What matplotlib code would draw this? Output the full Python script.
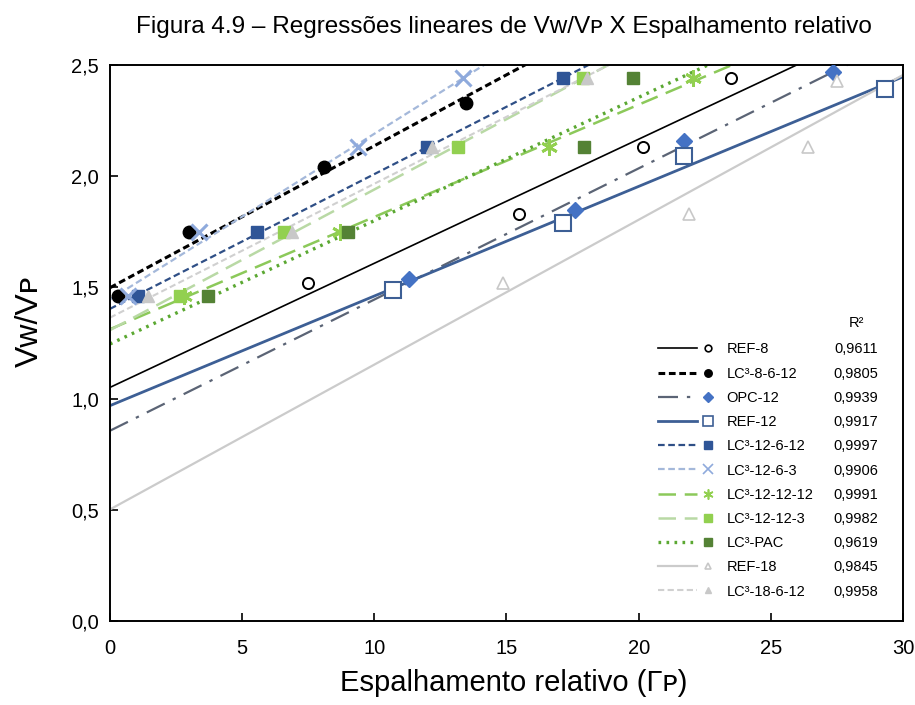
import numpy as np
import matplotlib
matplotlib.use("Agg")
import matplotlib.pyplot as plt
from matplotlib.lines import Line2D
from matplotlib.legend_handler import HandlerBase
from matplotlib.ticker import FuncFormatter

plt.rcParams['font.family'] = ['Liberation Sans', 'DejaVu Sans']

# dados (espalhamento relativo x Vw/Vp)
series = ['REF-8', 'LC³-8-6-12', 'OPC-12', 'REF-12', 'LC³-12-6-12', 'LC³-12-6-3',
          'LC³-12-12-12', 'LC³-12-12-3', 'LC³-PAC', 'REF-18', 'LC³-18-6-12']
r2 = ['0,9611', '0,9805', '0,9939', '0,9917', '0,9997', '0,9906',
      '0,9991', '0,9982', '0,9619', '0,9845', '0,9958']

gp_ref8 = [7.49, 15.47, 20.17, 23.5]
vw_ref8 = [1.52, 1.83, 2.13, 2.44]
gp_lc8 = [0.3, 3.0, 8.1, 13.45]
vw_lc8 = [1.46, 1.75, 2.04, 2.33]
gp_opc12 = [11.3, 17.6, 21.7, 27.35]
vw_opc12 = [1.54, 1.85, 2.16, 2.47]
gp_ref12 = [10.7, 17.15, 21.7, 29.3]
vw_ref12 = [1.49, 1.79, 2.09, 2.39]
gp_lc12_6_12 = [1.05, 5.55, 12.0, 17.15]
gp_lc12_6_3 = [0.7, 3.35, 9.4, 13.35]
gp_lc12_12_12 = [2.8, 8.7, 16.6, 22.05]
gp_lc12_12_3 = [2.65, 6.6, 13.15, 17.9]
gp_pac = [3.7, 9.0, 17.95, 19.8]
vw_lc = [1.46, 1.75, 2.13, 2.44]
gp_ref18 = [14.85, 21.9, 26.4, 27.5]
vw_ref18 = [1.52, 1.83, 2.13, 2.43]
gp_lc18 = [1.45, 6.9, 12.2, 18.05]

xs = [gp_ref8, gp_lc8, gp_opc12, gp_ref12, gp_lc12_6_12, gp_lc12_6_3,
      gp_lc12_12_12, gp_lc12_12_3, gp_pac, gp_ref18, gp_lc18]
ys = [vw_ref8, vw_lc8, vw_opc12, vw_ref12, vw_lc, vw_lc,
      vw_lc, vw_lc, vw_lc, vw_ref18, vw_lc]

# estilo de cada série: (linha, marcador)
line_styles = [
    dict(color='black', ls='-', lw=1.2),
    dict(color='black', ls=(0, (2.2, 1.2)), lw=2.2),
    dict(color='#5b6475', ls=(0, (9, 4, 1.5, 4)), lw=1.6),
    dict(color='#3d5f95', ls='-', lw=2.0),
    dict(color='#2f4f86', ls=(0, (3, 1.6)), lw=1.6),
    dict(color='#a4b8da', ls=(0, (3, 1.6)), lw=1.6),
    dict(color='#8cc95a', ls=(0, (7, 3.5)), lw=1.8),
    dict(color='#b9d9a5', ls=(0, (7, 3.5)), lw=1.8),
    dict(color='#5ba832', ls=(0, (0.8, 1.6)), lw=2.4),
    dict(color='#cbcbcb', ls='-', lw=1.6),
    dict(color='#d0d0d0', ls=(0, (3, 1.6)), lw=1.5),
]
marker_styles = [
    dict(marker='o', mfc='white', mec='black', ms=8, mew=1.4),
    dict(marker='o', mfc='black', mec='black', ms=9, mew=1),
    dict(marker='D', mfc='#4472c4', mec='#4472c4', ms=8, mew=1),
    dict(marker='s', mfc='white', mec='#3d5f95', ms=11, mew=1.5),
    dict(marker='s', mfc='#2f5597', mec='#2f5597', ms=9, mew=1),
    dict(marker='x', mfc='#8faadc', mec='#8faadc', ms=11, mew=2.2),
    dict(marker=(6, 2, 0), mfc='#92d050', mec='#92d050', ms=12, mew=2),
    dict(marker='s', mfc='#92d050', mec='#92d050', ms=9, mew=1),
    dict(marker='s', mfc='#548235', mec='#548235', ms=9, mew=1),
    dict(marker='^', mfc='white', mec='#c8c8c8', ms=8, mew=1.2),
    dict(marker='^', mfc='#c8c8c8', mec='#c8c8c8', ms=8, mew=1),
]


class LineMarkerHandler(HandlerBase):
    def create_artists(self, legend, orig_handle, xdescent, ydescent,
                       width, height, fontsize, trans):
        ls, ms = orig_handle
        y = height / 2 - ydescent
        seg = Line2D([-xdescent, -xdescent + 0.74 * width], [y, y], **ls)
        small = dict(ms)
        small['ms'] = ms['ms'] * 0.6
        small['mew'] = min(ms['mew'], 1.2)
        dot = Line2D([-xdescent + 0.95 * width], [y], ls='none', **small)
        seg.set_transform(trans)
        dot.set_transform(trans)
        return [seg, dot]


class Pair(tuple):
    pass


fig = plt.figure(figsize=(9.15, 7.05), dpi=100)
ax = fig.add_axes([0.1202, 0.1191, 0.8667, 0.7887])

xfit = np.array([0, 30])
handles = []
for x, y, ls, ms in zip(xs, ys, line_styles, marker_styles):
    a, b = np.polyfit(x, y, 1)
    ax.plot(xfit, a * xfit + b, zorder=2, **ls)
    ax.plot(x, y, ls='none', zorder=3, **ms)
    handles.append(Pair((ls, ms)))

ax.set_xlim(0, 30)
ax.set_ylim(0, 2.5)
ax.set_xticks(np.arange(0, 31, 5))
ax.set_yticks(np.arange(0, 2.51, 0.5))
ax.yaxis.set_major_formatter(FuncFormatter(lambda v, _: f'{v:.1f}'.replace('.', ',')))
ax.tick_params(direction='in', length=6, width=1.2, labelsize=14.5)
ax.tick_params(axis='x', pad=13)
ax.tick_params(axis='y', pad=8)
for sp in ax.spines.values():
    sp.set_linewidth(1.4)

ax.set_xlabel('Espalhamento relativo (Γᴘ)', fontsize=21)
ax.xaxis.set_label_coords(0.509, -0.087)
ax.set_ylabel('Vᴡ/Vᴘ', fontsize=23)
ax.yaxis.set_label_coords(-0.082, 0.54)
fig.text(0.551, 0.962, 'Figura 4.9 – Regressões lineares de Vᴡ/Vᴘ X Espalhamento relativo',
         ha='center', va='center', fontsize=17.5)

leg = ax.legend(handles, series, handler_map={Pair: LineMarkerHandler()},
                loc='upper left', bbox_to_anchor=(0.691, 0.501), frameon=False,
                fontsize=10.5, handlelength=3.6, handletextpad=1.1,
                labelspacing=0.70, borderpad=0, borderaxespad=0)

for txt, val in zip(leg.get_texts(), r2):
    ax.annotate(val, xy=(0.9685, 0.5), xycoords=(ax.transAxes, txt),
                ha='right', va='center', fontsize=10.5, zorder=6)
ax.annotate('R²', xy=(0.941, 1.0), xycoords=(ax.transAxes, leg.get_texts()[0]),
            xytext=(0, 14), textcoords='offset points',
            ha='center', va='center', fontsize=10.5, zorder=6)

fig.savefig('out.png', dpi=100)
